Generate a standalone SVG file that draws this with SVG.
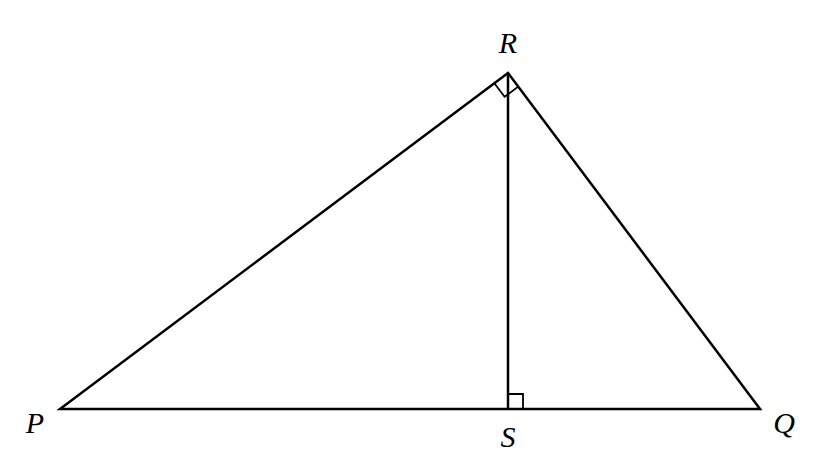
<svg xmlns="http://www.w3.org/2000/svg" width="820" height="466" viewBox="0 0 820 466">
<style>
.ln{stroke:#000;stroke-width:2.5;fill:none;stroke-linejoin:miter}
.mk{stroke:#000;stroke-width:1.8;fill:none}
.lb{font-family:"Liberation Serif","DejaVu Serif",serif;font-style:italic;font-size:30px;fill:#000;text-anchor:middle}
</style>
<rect width="820" height="466" fill="#fff"/>
<g id="connectors">
<polygon class="ln" points="60,409 508,73 760,409"/>
<line class="ln" x1="508" y1="73" x2="508" y2="409"/>
<polyline class="mk" points="494.4,83.2 504.6,96.8 518.2,86.6"/>
<polyline class="mk" points="508,394 523,394 523,409"/>
</g>
<g id="R"><text class="lb" x="508" y="53">R</text></g>
<g id="P"><text class="lb" x="35" y="433">P</text></g>
<g id="Q"><text class="lb" x="784" y="433">Q</text></g>
<g id="S"><text class="lb" x="508" y="447">S</text></g>
</svg>
